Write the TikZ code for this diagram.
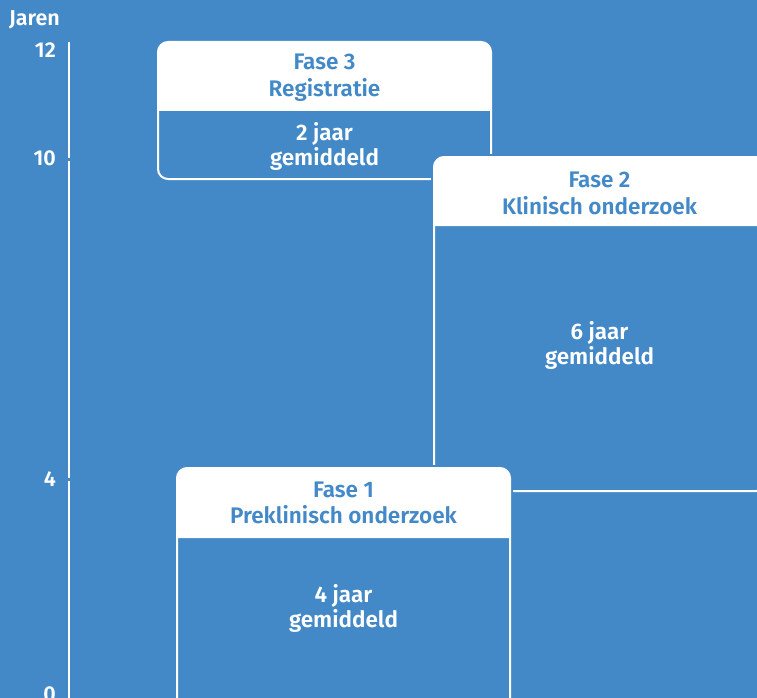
\documentclass[tikz,border=0pt]{standalone}
\usepackage{fontspec}
\setmainfont{Fira Sans}[BoldFont={Fira Sans SemiBold}]
\definecolor{bg}{HTML}{4389C7}
\tikzset{
  hd/.style={text=bg, font=\bfseries\fontsize{22.5}{26}\selectfont, inner sep=0pt, anchor=base},
  bd/.style={text=white, font=\bfseries\fontsize{22.5}{26}\selectfont, inner sep=0pt, anchor=base},
  ax/.style={text=white, font=\bfseries\fontsize{21.5}{25}\selectfont, inner sep=0pt},
  axline/.style={draw=white, line width=2pt},
  outline/.style={draw=bg, line width=6pt, fill=bg, rounded corners=10pt},
  border/.style={draw=white, line width=2pt, rounded corners=10pt},
}
\begin{document}
\begin{tikzpicture}[x=1pt,y=-1pt]
\fill[bg] (0,0) rectangle (757,698);
\useasboundingbox (0,0) rectangle (757,698);
\clip (0,0) rectangle (757,698);

% axis
\coordinate (a12) at (69,42);
\coordinate (a10t) at (69,158);
\coordinate (a10b) at (69,160.5);
\coordinate (a4t) at (69,477.5);
\coordinate (a4b) at (69,480.5);
\coordinate (a0) at (69,700);
\draw[axline] (a12) -- (a10t);
\draw[axline] (a10b) -- (a4t);
\draw[axline] (a4b) -- (a0);
\node[ax, anchor=base west] (jaren) at (9,26) {Jaren};
\node[ax, anchor=base east] (t12) at (56,58) {12};
\node[ax, anchor=base east] (t10) at (56,165) {10};
\node[ax, anchor=base east] (t4) at (56,486) {4};
\node[ax, anchor=base east] (t0) at (56,701) {0};

% Fase 3
\path[outline] (158,42) rectangle (491,179);
\fill[white] (158,111) [rounded corners=10pt] -- (158,42) -- (491,42) [sharp corners] -- (491,111) -- cycle;
\path[border] (158,42) rectangle (491,179);
\node[hd] (f3a) at (324.5,70) {Fase 3};
\node[hd] (f3b) at (324.5,97) {Registratie};
\node[bd] (f3c) at (324.5,140) {2 jaar};
\node[bd] (f3d) at (324.5,165) {gemiddeld};

% Fase 2
\path[outline] (434,157) rectangle (766,491);
\fill[white] (434,226) [rounded corners=10pt] -- (434,157) -- (766,157) [sharp corners] -- (766,226) -- cycle;
\path[border] (434,157) rectangle (766,491);
\node[hd] (f2a) at (599.5,187) {Fase 2};
\node[hd] (f2b) at (599.5,214) {Klinisch onderzoek};
\node[bd] (f2c) at (599.5,339) {6 jaar};
\node[bd] (f2d) at (599.5,364) {gemiddeld};

% Fase 1
\path[outline] (177,468) rectangle (510,720);
\fill[white] (177,538) [rounded corners=10pt] -- (177,468) -- (510,468) [sharp corners] -- (510,538) -- cycle;
\path[border] (177,468) rectangle (510,720);
\node[hd] (f1a) at (343.5,497) {Fase 1};
\node[hd] (f1b) at (343.5,523) {Preklinisch onderzoek};
\node[bd] (f1c) at (343.5,602) {4 jaar};
\node[bd] (f1d) at (343.5,627) {gemiddeld};
\end{tikzpicture}
\end{document}
